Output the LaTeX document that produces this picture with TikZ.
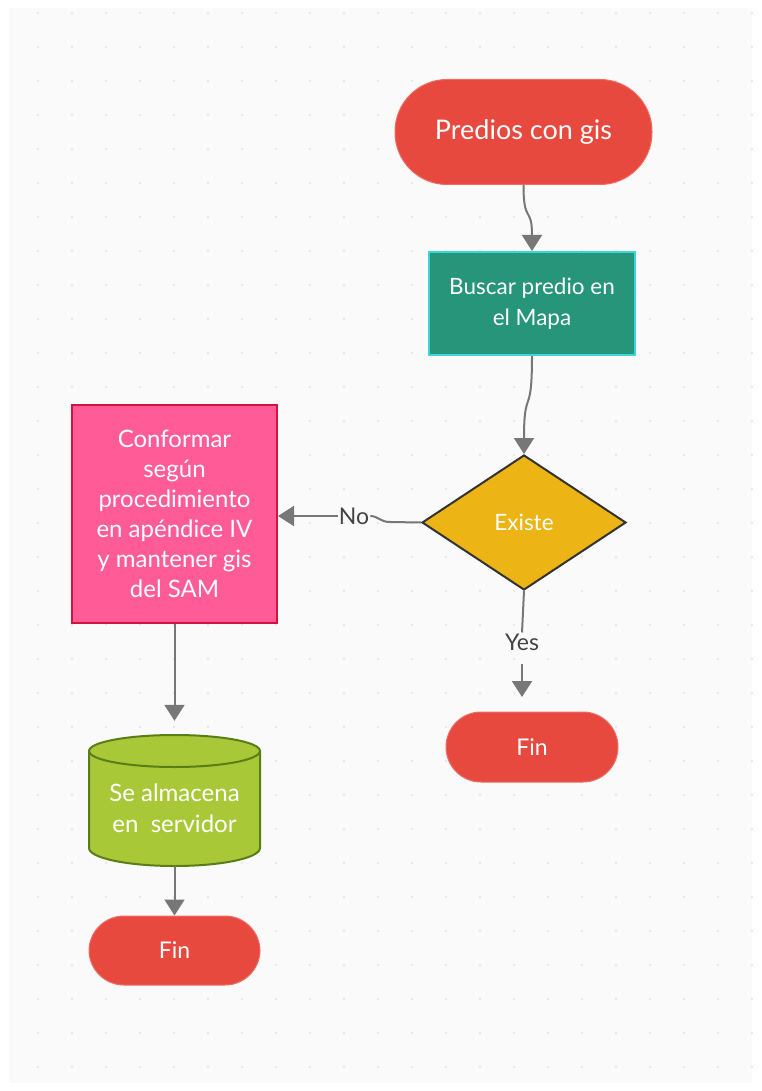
\documentclass[tikz,border=0pt]{standalone}
\usepackage{fontspec}
\setmainfont{Lato}
\usetikzlibrary{shapes.geometric,arrows.meta}
\definecolor{bgc}{HTML}{FAFAFA}
\definecolor{dotc}{HTML}{E2E2E2}
\definecolor{termred}{HTML}{E8493F}
\definecolor{tealf}{HTML}{26957A}
\definecolor{tealb}{HTML}{3CD6D6}
\definecolor{goldf}{HTML}{ECB414}
\definecolor{pinkf}{HTML}{FF5B96}
\definecolor{pinkb}{HTML}{D4143F}
\definecolor{greenf}{HTML}{A9C838}
\definecolor{greenb}{HTML}{5A7E16}
\definecolor{edgec}{HTML}{777777}
\definecolor{labc}{HTML}{444444}
\tikzset{
  x=1pt, y=1pt,
  terminal/.style={rectangle, rounded corners=#1, fill=termred, draw=termred!80!white, line width=1pt, text=white, inner sep=0pt, align=center},
  procbox/.style={rectangle, text=white, inner sep=0pt, align=center, line width=2pt},
  conn/.style={draw=edgec, line width=2pt, -{Triangle[width=20pt,length=16pt]}},
  plain/.style={draw=edgec, line width=2pt},
  elabel/.style={text=labc, font=\fontsize{23}{26}\selectfont, inner sep=1pt},
}
\begin{document}
\begin{tikzpicture}
\useasboundingbox (0,0) rectangle (761,-1091);
\fill[bgc] (9,-8) rectangle (752,-1083);
\foreach \i in {0,...,21} {
  \foreach \j in {0,...,31} {
    \fill[dotc] ({38+34*\i},{-13-34*\j}) circle (1.2);
  }
}
% nodes
\node[terminal=52pt, minimum width=257pt, minimum height=105pt, font=\fontsize{27}{32}\selectfont] (start) at (523.5,-132) {Predios con gis};
\node[procbox, fill=tealf, draw=tealb, minimum width=206pt, minimum height=103pt, font=\fontsize{22.5}{31}\selectfont] (buscar) at (532,-303.5) {Buscar predio en\\el Mapa};
\node[diamond, aspect=1.511, fill=goldf, draw=black!80, line width=2pt, minimum width=204pt, minimum height=135pt, inner sep=0pt, text=white, font=\fontsize{22.5}{26}\selectfont] (existe) at (524,-522.5) {Existe};
\node[procbox, fill=pinkf, draw=pinkb, minimum width=205pt, minimum height=218pt, font=\fontsize{24}{30}\selectfont] (conf) at (174.5,-514) {Conformar\\según\\procedimiento\\en apéndice IV\\y mantener gis\\del SAM};
% cylinder
\fill[greenf] (89,-751) -- (89,-848) arc[start angle=180,end angle=360,x radius=85.5,y radius=18] -- (260,-751) arc[start angle=0,end angle=180,x radius=85.5,y radius=16] -- cycle;
\draw[greenb, line width=2pt] (89,-751) -- (89,-848) arc[start angle=180,end angle=360,x radius=85.5,y radius=18] -- (260,-751);
\draw[greenb, line width=2pt] (174.5,-751) ellipse [x radius=85.5, y radius=16];
\node[rectangle, inner sep=0pt, minimum width=171pt, minimum height=131pt] (cyl) at (174.5,-800.5) {};
\node[inner sep=0pt, text=white, align=center, font=\fontsize{24}{31}\selectfont] (cyltext) at (174.5,-808) {Se almacena\\en\ \ servidor};
\node[terminal=35pt, minimum width=172pt, minimum height=70pt, font=\fontsize{23}{26}\selectfont] (fin1) at (532,-747) {Fin};
\node[terminal=35pt, minimum width=171pt, minimum height=69pt, font=\fontsize{23}{26}\selectfont] (fin2) at (174.5,-950.5) {Fin};
% labels
\node[elabel] (no) at (354,-516) {No};
\node[elabel] (yes) at (522,-642) {Yes};
\coordinate (yt) at (522,-697);
% connectors
\draw[conn] (start.south) .. controls (523.5,-225) and (532,-205) .. (buscar.north);
\draw[conn] (buscar.south) .. controls (532,-420) and (524,-385) .. (existe.north);
\draw[plain] (existe.west) -- (390,-522) .. controls (380,-522) and (378,-516) .. (no.east);
\draw[conn] (no.west) -- (no.west -| conf.east);
\draw[plain] (existe.south) -- (yes.north);
\draw[conn] (yes.south) ++(0,-12) -- (yt);
\draw[conn, shorten >=14pt] (conf.south) -- (cyl.north);
\draw[conn] (cyl.south) -- (fin2.north);
\end{tikzpicture}
\end{document}
